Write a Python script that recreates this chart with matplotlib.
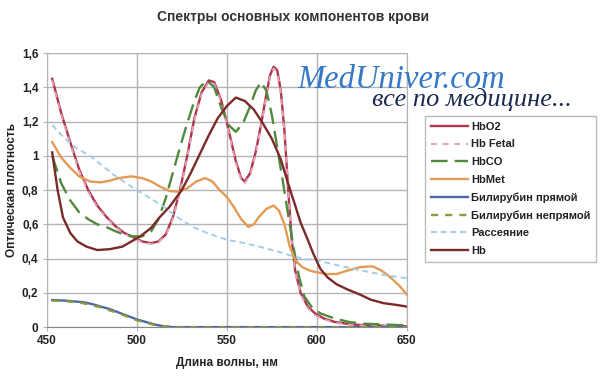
import numpy as np
import matplotlib
matplotlib.use("Agg")
import matplotlib.pyplot as plt
from matplotlib.ticker import FuncFormatter

plt.rcParams['font.family'] = ['Liberation Sans', 'DejaVu Sans']

# wavelength (nm) / optical density pairs
hbo2_x = [453, 458, 463, 468, 473, 478, 483, 488, 493, 498, 503, 508, 512, 516, 520, 524, 528, 532, 536, 540,
          543, 547, 551, 555, 558, 560, 563, 566, 569, 572, 574, 576, 578, 580, 582, 584, 586, 588, 591, 595,
          599, 604, 610, 620, 630, 650]
hbo2_y = [1.45, 1.25, 1.08, 0.92, 0.80, 0.71, 0.645, 0.59, 0.55, 0.525, 0.50, 0.49, 0.50, 0.54, 0.64, 0.80, 1.00, 1.22, 1.37, 1.44,
          1.43, 1.32, 1.15, 0.97, 0.87, 0.85, 0.90, 1.02, 1.18, 1.36, 1.47, 1.52, 1.50, 1.38, 1.15, 0.82, 0.52, 0.33, 0.20, 0.12,
          0.08, 0.05, 0.03, 0.015, 0.01, 0.005]

fetal_x = [453, 458, 463, 468, 473, 478, 483, 488, 493, 498, 503, 508, 512, 516, 520, 524, 528, 532, 536, 540,
           543, 547, 551, 555, 558, 560, 563, 566, 569, 572, 574, 576, 578, 580, 582, 584, 586, 588, 591, 595,
           599, 604, 610, 620, 630, 650]
fetal_y = [1.44, 1.24, 1.07, 0.91, 0.79, 0.70, 0.64, 0.585, 0.545, 0.52, 0.495, 0.485, 0.495, 0.535, 0.63, 0.79, 0.99, 1.21, 1.36, 1.43,
           1.42, 1.31, 1.14, 0.96, 0.86, 0.84, 0.89, 1.01, 1.17, 1.35, 1.46, 1.51, 1.49, 1.37, 1.14, 0.81, 0.51, 0.32, 0.19, 0.11,
           0.07, 0.045, 0.025, 0.012, 0.008, 0.004]

hbco_x = [453, 458, 463, 468, 473, 478, 483, 488, 493, 498, 503, 508, 512, 516, 520, 524, 528, 532, 535, 539,
          543, 547, 551, 555, 559, 563, 566, 569, 572, 575, 578, 581, 584, 587, 590, 593, 597, 602, 610, 618, 626, 650]
hbco_y = [1.00, 0.84, 0.74, 0.67, 0.63, 0.60, 0.585, 0.56, 0.54, 0.53, 0.53, 0.56, 0.63, 0.75, 0.90, 1.05, 1.19, 1.32, 1.40, 1.44,
          1.40, 1.28, 1.18, 1.14, 1.19, 1.29, 1.38, 1.43, 1.38, 1.24, 1.05, 0.86, 0.66, 0.47, 0.30, 0.18, 0.12, 0.08, 0.05, 0.03, 0.02, 0.01]

hbmet_x = [453, 458, 463, 468, 474, 480, 485, 490, 497, 503, 508, 513, 518, 523, 528, 533, 538, 542, 546, 550,
           554, 558, 562, 565, 568, 572, 576, 579, 582, 585, 588, 592, 596, 600, 605, 611, 617, 624, 631, 636,
           641, 646, 650]
hbmet_y = [1.08, 0.99, 0.93, 0.88, 0.85, 0.845, 0.855, 0.87, 0.88, 0.87, 0.85, 0.82, 0.795, 0.79, 0.81, 0.85, 0.87, 0.85, 0.80, 0.76,
           0.70, 0.63, 0.585, 0.60, 0.645, 0.69, 0.71, 0.68, 0.60, 0.47, 0.39, 0.35, 0.33, 0.32, 0.31, 0.31, 0.33, 0.35, 0.355, 0.33,
           0.29, 0.24, 0.19]

bili_d_x = [453, 460, 465, 470, 475, 480, 485, 490, 495, 500, 505, 510, 515, 520, 650]
bili_d_y = [0.158, 0.155, 0.15, 0.146, 0.135, 0.12, 0.105, 0.085, 0.065, 0.045, 0.03, 0.015, 0.005, 0.0, 0.0]

bili_i_x = [453, 460, 470, 480, 490, 500, 510, 520, 650]
bili_i_y = [0.155, 0.152, 0.14, 0.115, 0.08, 0.04, 0.012, 0.0, 0.0]

scat_x = [453, 460, 467, 474, 480, 487, 494, 500, 507, 514, 522, 531, 540, 550, 560, 568, 577, 585, 592, 600,
          612, 625, 637, 650]
scat_y = [1.18, 1.10, 1.04, 1.00, 0.95, 0.89, 0.84, 0.80, 0.755, 0.71, 0.645, 0.585, 0.545, 0.51, 0.49, 0.47, 0.445, 0.42, 0.40, 0.39,
          0.36, 0.33, 0.305, 0.285]

hb_x = [453, 456, 459, 463, 467, 472, 478, 485, 492, 497, 502, 508, 513, 518, 525, 530, 535, 540, 545, 550,
        555, 560, 565, 570, 575, 580, 584, 588, 591, 595, 598, 602, 606, 611, 617, 624, 630, 637, 644, 650]
hb_y = [1.02, 0.80, 0.64, 0.55, 0.50, 0.47, 0.45, 0.455, 0.47, 0.50, 0.53, 0.58, 0.645, 0.70, 0.80, 0.90, 1.01, 1.12, 1.22, 1.29,
        1.34, 1.32, 1.27, 1.19, 1.10, 0.98, 0.84, 0.71, 0.61, 0.51, 0.43, 0.34, 0.29, 0.25, 0.22, 0.19, 0.16, 0.14, 0.13, 0.12]

x_ticks = [450, 500, 550, 600, 650]
y_ticks = [0, 0.2, 0.4, 0.6, 0.8, 1.0, 1.2, 1.4, 1.6]

fig = plt.figure(figsize=(6, 3.76), dpi=100)
ax = fig.add_axes([0.078, 0.130, 0.600, 0.729])

kw = dict(solid_joinstyle='round', dash_joinstyle='round')
ax.plot(hbo2_x, hbo2_y, color='#b0344a', lw=1.7, label='HbO2', **kw)
ax.plot(fetal_x, fetal_y, color='#e2a3bb', lw=1.4, ls=(0, (3, 3)), label='Hb Fetal', **kw)
ax.plot(hbco_x, hbco_y, color='#4f8a3c', lw=1.7, ls=(0, (7, 3)), label='HbCO', **kw)
ax.plot(hbmet_x, hbmet_y, color='#e39a55', lw=1.7, label='HbMet', **kw)
ax.plot(bili_d_x, bili_d_y, color='#4a67a8', lw=1.7, label='Билирубин прямой', **kw)
ax.plot(bili_i_x, bili_i_y, color='#8c9a3e', lw=1.7, ls=(0, (3, 3)), label='Билирубин непрямой', **kw)
ax.plot(scat_x, scat_y, color='#a3cde6', lw=1.4, ls=(0, (3, 2)), label='Рассеяние', **kw)
ax.plot(hb_x, hb_y, color='#7a2a28', lw=1.7, label='Hb', **kw)

ax.set_xlim(450, 650)
ax.set_ylim(0, 1.6)
ax.set_xticks(x_ticks)
ax.set_yticks(y_ticks)
ax.yaxis.set_major_formatter(FuncFormatter(lambda v, p: ('%g' % round(v, 1)).replace('.', ',')))
ax.grid(True, color='#b4b4b4', lw=1)
ax.set_axisbelow(True)
for s in ax.spines.values():
    s.set_color('#b4b4b4')
ax.spines['bottom'].set_color('#888888')
ax.tick_params(length=3, color='#b4b4b4', labelsize=8.5, pad=3)
for lab in ax.get_xticklabels() + ax.get_yticklabels():
    lab.set_fontweight('bold')
    lab.set_color('#222222')

ax.set_xlabel('Длина волны, нм', fontsize=8.5, fontweight='bold', color='#222222', labelpad=7)
ax.set_ylabel('Оптическая плотность', fontsize=8.5, fontweight='bold', color='#222222', labelpad=3)
fig.text(0.488, 0.955, 'Спектры основных компонентов крови', ha='center', va='center',
         fontsize=10, fontweight='bold', color='#333333')

leg = fig.legend(loc='upper left', bbox_to_anchor=(0.708, 0.692), frameon=True, fancybox=False,
                 fontsize=8, handlelength=3.3, handletextpad=0.3, labelspacing=0.68,
                 borderpad=0.55, borderaxespad=0)
leg.get_frame().set_edgecolor('#aaaaaa')
leg.get_frame().set_linewidth(1)
for t in leg.get_texts():
    t.set_fontweight('bold')
    t.set_color('#222222')

# watermark
fig.text(0.495, 0.765, 'MedUniver.com', fontsize=23.5, family='Liberation Serif', style='italic',
         color='#3578c8', ha='left', va='baseline')
fig.text(0.62, 0.718, 'все по медицине...', fontsize=19, family='Liberation Serif', style='italic',
         color='#1c2a4e', ha='left', va='baseline')

fig.savefig('out.png', dpi=100)
